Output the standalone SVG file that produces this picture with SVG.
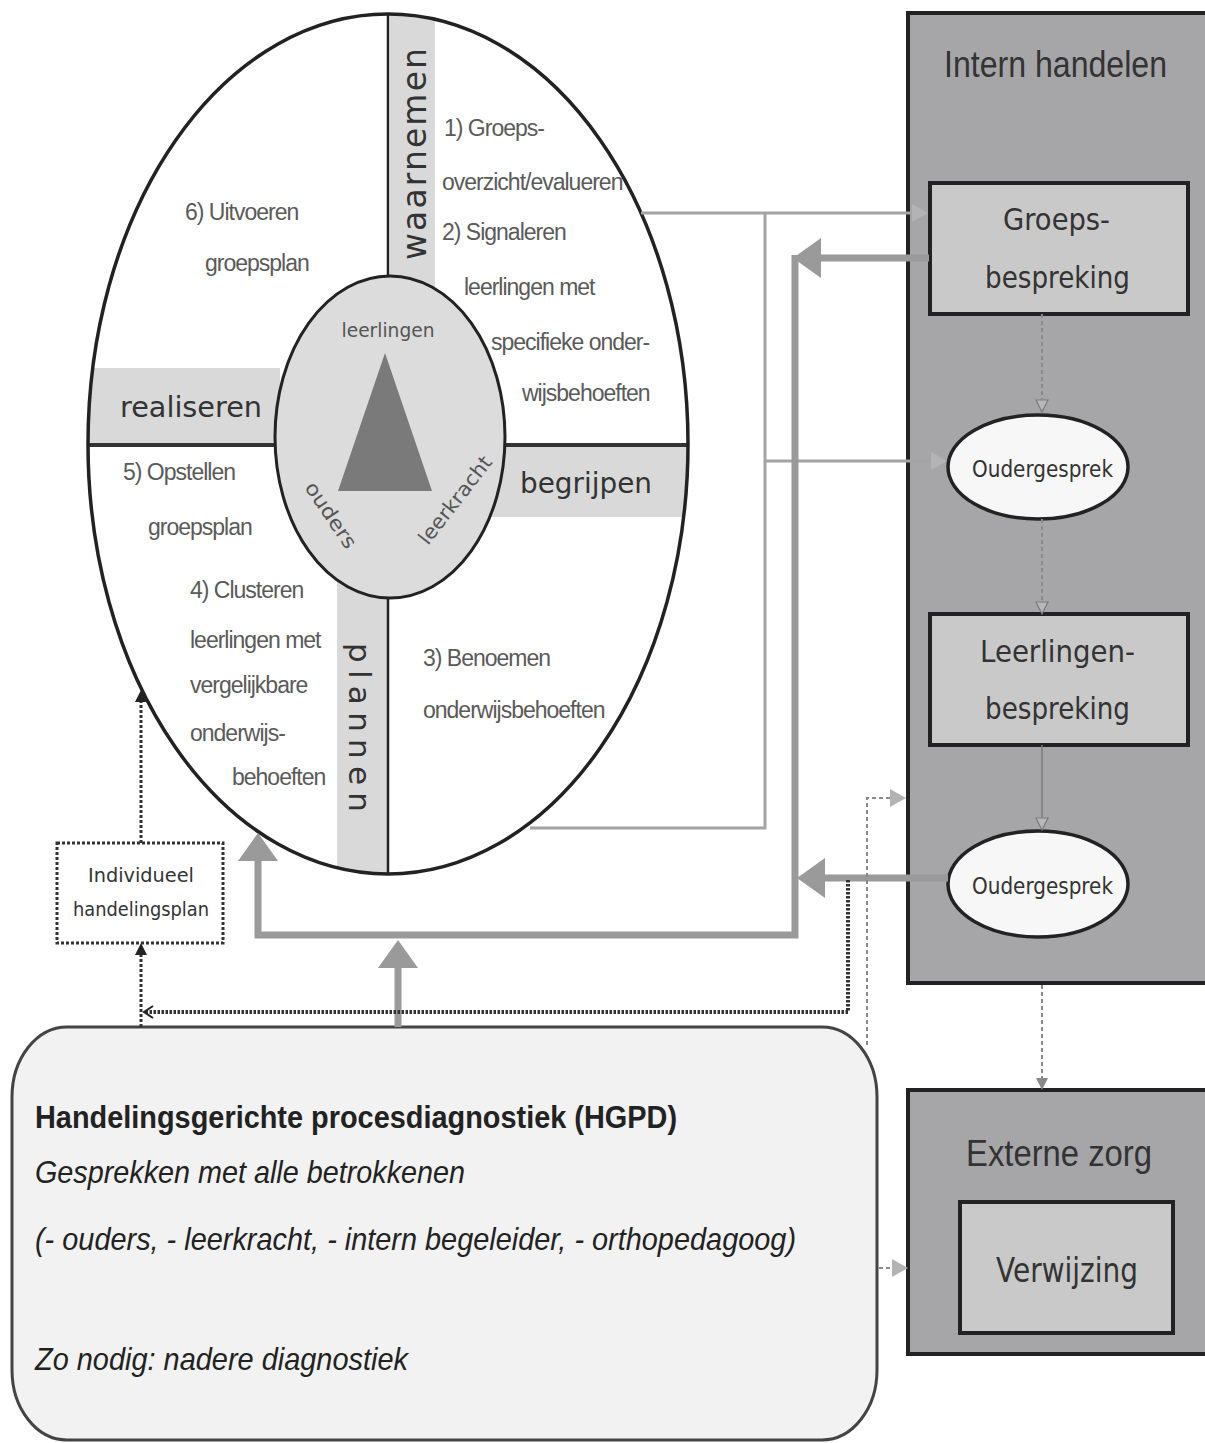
<svg xmlns="http://www.w3.org/2000/svg" width="1205" height="1443" viewBox="0 0 1205 1443">
<style>
.q{font-family:"Liberation Sans",Arial,sans-serif;font-size:23px;fill:#5a5a5a;letter-spacing:-1px}
.c{font-family:"DejaVu Sans",sans-serif;fill:#333}
.n{font-family:"Liberation Sans",Arial,sans-serif;fill:#333}
.panel{fill:#a6a6a9;stroke:#222;stroke-width:4}
.box{fill:#c9c9c9;stroke:#222;stroke-width:4}
.oval{fill:#f7f7f7;stroke:#222;stroke-width:3.5}
.band{fill:#d9d9d9}
.thick{fill:none;stroke:#9a9a9a;stroke-width:7}
.thin{fill:none;stroke:#a3a3a3;stroke-width:3}
.dot{fill:none;stroke:#333;stroke-width:3;stroke-dasharray:3 2}
.dotb{fill:none;stroke:#333;stroke-width:4;stroke-dasharray:2.5 1.5}
.dash{fill:none;stroke:#8a8a8a;stroke-width:2;stroke-dasharray:4 3}
</style>
<defs>
<clipPath id="ec"><ellipse cx="388" cy="444" rx="300" ry="430"/></clipPath>
<marker id="mThick" markerUnits="userSpaceOnUse" viewBox="0 0 28 40" refX="0" refY="20" markerWidth="28" markerHeight="40" orient="auto"><path d="M0,0 L28,20 L0,40 z" fill="#9a9a9a"/></marker>
<marker id="mThin" markerUnits="userSpaceOnUse" viewBox="0 0 16 18" refX="0" refY="9" markerWidth="16" markerHeight="18" orient="auto"><path d="M0,0 L16,9 L0,18 z" fill="#b3b3b3"/></marker>
<marker id="mOpen" markerUnits="userSpaceOnUse" viewBox="0 0 14 14" refX="0" refY="7" markerWidth="14" markerHeight="14" orient="auto"><path d="M1,1 L13,7 L1,13 z" fill="#b8b8bb" stroke="#7a7a7a" stroke-width="1.2"/></marker>
<marker id="mGray" markerUnits="userSpaceOnUse" viewBox="0 0 12 12" refX="0" refY="6" markerWidth="12" markerHeight="12" orient="auto"><path d="M0,0 L12,6 L0,12 z" fill="#8a8a8a"/></marker>
<marker id="mDot" markerUnits="userSpaceOnUse" viewBox="0 0 12 12" refX="0" refY="6" markerWidth="12" markerHeight="12" orient="auto"><path d="M0,0 L12,6 L0,12 z" fill="#222"/></marker>
<marker id="mChev" markerUnits="userSpaceOnUse" viewBox="0 0 12 14" refX="10" refY="7" markerWidth="12" markerHeight="14" orient="auto"><path d="M1,1 L10,7 L1,13" fill="none" stroke="#222" stroke-width="2"/></marker>
</defs>
<rect width="1205" height="1443" fill="#ffffff"/>

<g id="cycle">
<ellipse cx="388" cy="444" rx="300" ry="430" fill="#ffffff"/>
<g clip-path="url(#ec)">
<rect class="band" x="80" y="368" width="200" height="77"/>
<rect class="band" x="440" y="445" width="260" height="72"/>
<rect class="band" x="390" y="0" width="45" height="300"/>
<rect class="band" x="337" y="580" width="51" height="300"/>
<line x1="80" y1="445" x2="700" y2="445" stroke="#333" stroke-width="4"/>
<line x1="388" y1="0" x2="388" y2="890" stroke="#222" stroke-width="2.5"/>
</g>
<ellipse cx="388" cy="444" rx="300" ry="430" fill="none" stroke="#222" stroke-width="3.5"/>
<text class="c" x="120" y="417" font-size="28" textLength="142" lengthAdjust="spacingAndGlyphs">realiseren</text>
<text class="c" x="520" y="493" font-size="28" textLength="132" lengthAdjust="spacingAndGlyphs">begrijpen</text>
<text class="c" transform="translate(426,260) rotate(-90)" font-size="33" textLength="212" lengthAdjust="spacing">waarnemen</text>
<text class="c" transform="translate(349,643) rotate(90)" font-size="31" textLength="169" lengthAdjust="spacing">plannen</text>
<text class="q" x="444" y="136">1) Groeps-</text>
<text class="q" x="442" y="190">overzicht/evalueren</text>
<text class="q" x="442" y="240">2) Signaleren</text>
<text class="q" x="464" y="295">leerlingen met</text>
<text class="q" x="491" y="350">specifieke onder-</text>
<text class="q" x="522" y="401">wijsbehoeften</text>
<text class="q" x="185" y="220">6) Uitvoeren</text>
<text class="q" x="205" y="271">groepsplan</text>
<text class="q" x="123" y="480">5) Opstellen</text>
<text class="q" x="148" y="535">groepsplan</text>
<text class="q" x="190" y="598">4) Clusteren</text>
<text class="q" x="190" y="648">leerlingen met</text>
<text class="q" x="190" y="693">vergelijkbare</text>
<text class="q" x="190" y="741">onderwijs-</text>
<text class="q" x="232" y="785">behoeften</text>
<text class="q" x="423" y="666">3) Benoemen</text>
<text class="q" x="423" y="718">onderwijsbehoeften</text>
</g>

<g id="core">
<ellipse cx="390" cy="437" rx="115" ry="161" fill="#dcdcdc" stroke="#222" stroke-width="3"/>
<polygon points="385,353 338,491 432,491" fill="#7a7a7a"/>
<text class="c" x="388" y="337" font-size="20" text-anchor="middle" textLength="93" lengthAdjust="spacingAndGlyphs" style="fill:#555">leerlingen</text>
<text class="c" transform="translate(331,515) rotate(56)" font-size="20" text-anchor="middle" y="7" textLength="76" lengthAdjust="spacingAndGlyphs" style="fill:#555">ouders</text>
<text class="c" transform="translate(455,500) rotate(-52)" font-size="20" text-anchor="middle" y="7" textLength="106" lengthAdjust="spacingAndGlyphs" style="fill:#555">leerkracht</text>
</g>

<g id="intern">
<rect class="panel" x="908" y="13" width="310" height="970"/>
<text class="n" x="944" y="77" font-size="36" textLength="223" lengthAdjust="spacingAndGlyphs">Intern handelen</text>
</g>
<g id="groepsbespreking">
<rect class="box" x="930" y="183" width="258" height="131"/>
<text class="c" x="1003" y="230" font-size="31" textLength="107" lengthAdjust="spacingAndGlyphs">Groeps-</text>
<text class="c" x="985" y="288" font-size="31" textLength="145" lengthAdjust="spacingAndGlyphs">bespreking</text>
</g>
<g id="oudergesprek1">
<ellipse class="oval" cx="1038" cy="467" rx="90" ry="52"/>
<text class="c" x="972" y="477" font-size="23" textLength="141" lengthAdjust="spacingAndGlyphs">Oudergesprek</text>
</g>
<g id="leerlingenbespreking">
<rect class="box" x="930" y="614" width="258" height="131"/>
<text class="c" x="980" y="662" font-size="31" textLength="155" lengthAdjust="spacingAndGlyphs">Leerlingen-</text>
<text class="c" x="985" y="719" font-size="31" textLength="145" lengthAdjust="spacingAndGlyphs">bespreking</text>
</g>
<g id="oudergesprek2">
<ellipse class="oval" cx="1038" cy="884" rx="90" ry="53"/>
<text class="c" x="972" y="894" font-size="23" textLength="141" lengthAdjust="spacingAndGlyphs">Oudergesprek</text>
</g>
<g id="extern">
<rect class="panel" x="908" y="1090" width="310" height="264"/>
<text class="n" x="966" y="1166" font-size="36" textLength="186" lengthAdjust="spacingAndGlyphs">Externe zorg</text>
</g>
<g id="verwijzing">
<rect class="box" x="960" y="1202" width="213" height="131"/>
<text class="c" x="996" y="1282" font-size="34" textLength="142" lengthAdjust="spacingAndGlyphs">Verwijzing</text>
</g>
<g id="individueel">
<rect class="dot" x="57" y="843" width="166" height="100"/>
<text class="c" x="88" y="882" font-size="20" textLength="106" lengthAdjust="spacingAndGlyphs">Individueel</text>
<text class="c" x="73" y="916" font-size="20" textLength="136" lengthAdjust="spacingAndGlyphs">handelingsplan</text>
</g>
<g id="hgpd">
<rect x="12" y="1027" width="865" height="413" rx="55" ry="70" fill="#f2f2f2" stroke="#444" stroke-width="3"/>
<text class="n" x="35" y="1128" font-size="32" font-weight="bold" textLength="642" lengthAdjust="spacingAndGlyphs" style="fill:#222">Handelingsgerichte procesdiagnostiek (HGPD)</text>
<text class="n" x="35" y="1183" font-size="32" font-style="italic" textLength="430" lengthAdjust="spacingAndGlyphs" style="fill:#222">Gesprekken met alle betrokkenen</text>
<text class="n" x="35" y="1250" font-size="32" font-style="italic" textLength="761" lengthAdjust="spacingAndGlyphs" style="fill:#222">(- ouders, - leerkracht, - intern begeleider, - orthopedagoog)</text>
<text class="n" x="35" y="1370" font-size="32" font-style="italic" textLength="373" lengthAdjust="spacingAndGlyphs" style="fill:#222">Zo nodig: nadere diagnostiek</text>
</g>

<g id="connectors">
<path class="thin" d="M641,213 H912" marker-end="url(#mThin)"/>
<path class="thin" d="M765,213 V828 H530"/>
<path class="thin" d="M765,461 H931" marker-end="url(#mThin)"/>
<path class="thick" d="M929,258 H821" marker-end="url(#mThick)"/>
<path class="thick" d="M795,255 V935 H258 V861" stroke-linejoin="miter" marker-end="url(#mThick)"/>
<path class="thick" d="M948,878 H825" marker-end="url(#mThick)"/>
<path class="thick" d="M398,1027 V968" marker-end="url(#mThick)"/>
<path class="dash" d="M1042,314 V399" marker-end="url(#mOpen)"/>
<path class="dash" d="M1042,519 V601" marker-end="url(#mOpen)"/>
<path d="M1042,745 V817" fill="none" stroke="#7a7a7a" stroke-width="1.5" marker-end="url(#mOpen)"/>
<path class="dash" d="M1042,985 V1078" marker-end="url(#mGray)"/>
<path class="dash" d="M867,1045 V798 H890" marker-end="url(#mThin)"/>
<path class="dash" d="M879,1268 H892" marker-end="url(#mThin)"/>
<path class="dotb" d="M848,880 V1012 H144" marker-end="url(#mChev)"/>
<path class="dot" d="M141,843 V702" marker-end="url(#mDot)"/>
<path class="dot" d="M141,1027 V955" marker-end="url(#mDot)"/>
</g>
</svg>
